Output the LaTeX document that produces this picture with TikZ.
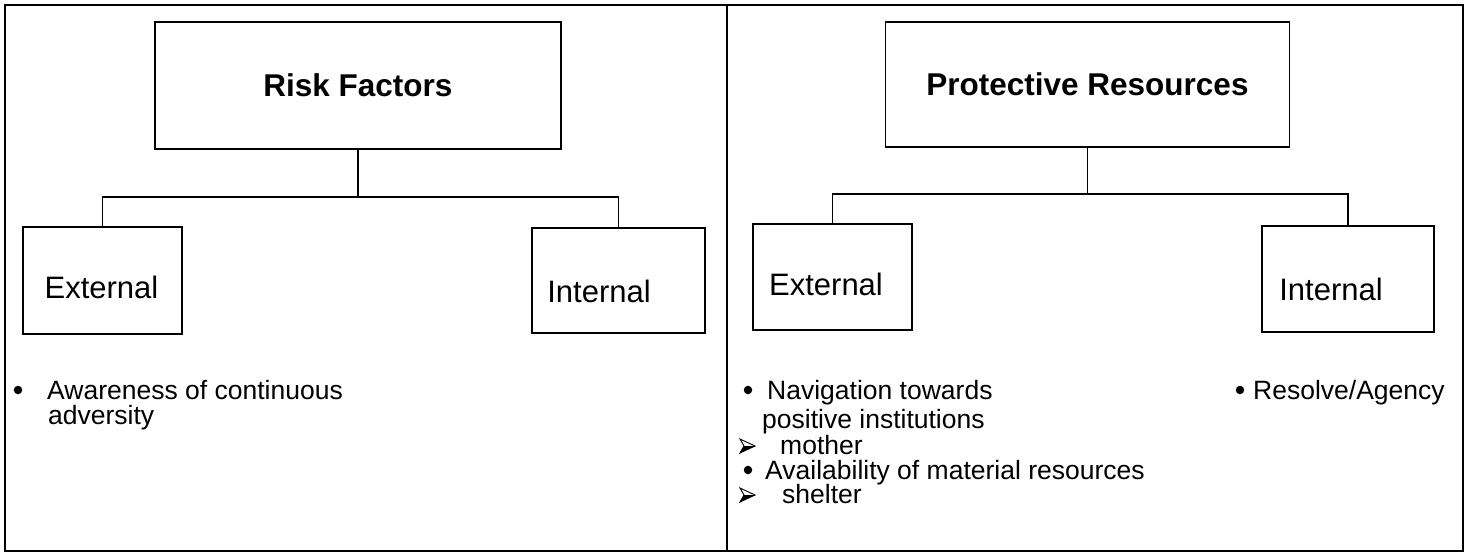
\documentclass[tikz,border=0pt]{standalone}
\usepackage{fontspec}
\setmainfont{Liberation Sans}
\begin{document}
\begin{tikzpicture}[x=1pt,y=-1pt,
  frameline/.style={line width=2.6pt},
  boxline/.style={draw, line width=1.8pt, inner sep=0pt, outer sep=0pt},
  link/.style={line width=1.8pt},
  title/.style={font=\fontsize{31.5}{36}\selectfont\bfseries},
  label/.style={anchor=base, inner sep=0pt, font=\fontsize{31}{36}\selectfont},
  item/.style={anchor=base west, inner sep=0pt, font=\fontsize{26.5}{30}\selectfont},
  dot/.style={circle, fill=black, inner sep=0pt, minimum size=8.5pt},
  arrowbullet/.pic={
    % outlined arrowhead with its lower half filled
    \coordinate (-tip) at (15,0);
    \fill[black] (4,0) -- (15,0) -- (0,7) -- cycle;
    \draw[line width=0.9pt, line join=miter] (0,-7) -- (15,0) -- (0,7) -- (4,0) -- cycle;
    \draw[line width=0.9pt] (4,0) -- (15,0);
  }]
\useasboundingbox (0,0) rectangle (1470,555);

% table frame with two cells
\coordinate (tl) at (5,5);
\coordinate (br) at (1463,551);
\coordinate (dtop) at (727,5);
\coordinate (dbot) at (727,551);
\draw[frameline] (tl) rectangle (br);
\draw[frameline] (dtop) -- (dbot);

% ---- left cell: risk factors ----
\node[boxline, title, minimum width=406pt, minimum height=127pt] (rf) at (358,85.5) {Risk Factors};
\node[boxline, minimum width=159pt, minimum height=107pt] (extL) at (102.5,280.5) {};
\node[boxline, minimum width=173pt, minimum height=105pt] (intL) at (618.5,280.5) {};
\coordinate (jL) at (358,197);
\draw[link] (rf.south) -- (jL);
\draw[link] (extL.north) -- (extL.north |- jL) -- (intL.north |- jL) -- (intL.north);
\node[label] (extLt) at (101.5,298) {External};
\node[label] (intLt) at (599,302) {Internal};

\node[dot] (b1) at (18,390) {};
\node[item] (t1) at (47,399) {Awareness of continuous};
\node[item] (t1b) at (48,424) {adversity};

% ---- right cell: protective resources ----
\node[boxline, title, minimum width=404pt, minimum height=125pt] (pr) at (1087.5,84.5) {Protective Resources};
\node[boxline, minimum width=159pt, minimum height=106pt] (extR) at (832.5,277) {};
\node[boxline, minimum width=172pt, minimum height=106pt] (intR) at (1348,279) {};
\coordinate (jR) at (1087.5,194);
\draw[link] (pr.south) -- (jR);
\draw[link] (extR.north) -- (extR.north |- jR) -- (intR.north |- jR) -- (intR.north);
\node[label] (extRt) at (826,295) {External};
\node[label] (intRt) at (1331,300) {Internal};

\node[dot] (b2) at (748,390) {};
\node[item] (t2) at (767,399) {Navigation towards};
\node[item] (t2b) at (762,428) {positive institutions};
\pic (a1) at (740,446) {arrowbullet};
\node[item] (t3) at (780,454) {mother};
\node[dot] (b3) at (748,470) {};
\node[item] (t4) at (765,479) {Availability of material resources};
\pic (a2) at (740,495) {arrowbullet};
\node[item] (t5) at (782,503) {shelter};

\node[dot] (b4) at (1240,390) {};
\node[item] (t6) at (1253,399) {Resolve/Agency};
\end{tikzpicture}
\end{document}
